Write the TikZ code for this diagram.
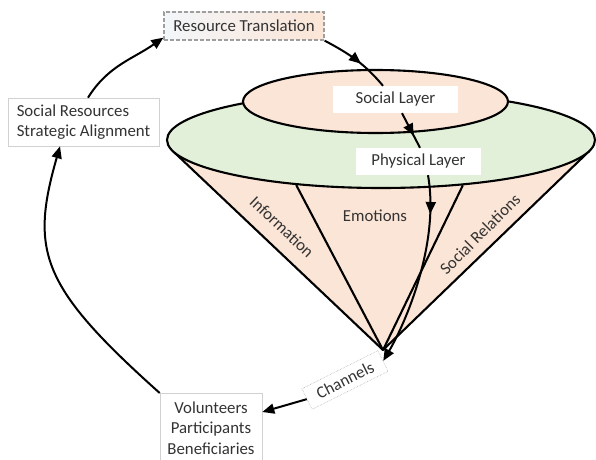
\documentclass[tikz,border=0pt]{standalone}
\usepackage{fontspec}
\setmainfont{Carlito}
\usepackage{tikz}
\usetikzlibrary{arrows.meta, shapes.geometric, decorations.markings}

\definecolor{peach}{HTML}{FBE5D6}
\definecolor{leaf}{HTML}{E2F0D9}
\definecolor{frost}{HTML}{F3F6FA}
\definecolor{txt}{HTML}{333333}

\begin{document}
\begin{tikzpicture}[x=1pt,y=1pt,>={Triangle[length=12pt,width=10pt]},
        every node/.style={font=\fontsize{16.8}{20.5}\selectfont, text=txt},
        layer/.style={ellipse, draw, line width=2.1pt, inner sep=0pt},
        tag/.style={fill=white, minimum width=125pt, minimum height=27pt, inner sep=0pt},
        plainbox/.style={draw=black!18, line width=0.6pt, fill=white},
        link/.style={line width=2pt},
        flow/.style={->, line width=2pt},
        midarrow/.style={postaction={decorate}, decoration={markings,
            mark=at position #1 with {\arrow{Triangle[length=12pt,width=10pt]}}}}]

    \useasboundingbox (0,0) rectangle (596,459);

    % cone under the two layers
    \coordinate (apex)  at (383,109);
    \coordinate (rim_l) at (172.8,308);
    \coordinate (rim_r) at (589.4,308.1);
    \fill[peach] (rim_l) -- (apex) -- (rim_r) -- cycle;
    \draw[line width=2.1pt, line join=round] (rim_l) -- (apex) -- (rim_r);

    \node[layer, fill=leaf, minimum width=428pt, minimum height=96pt] (phys_layer) at (381,319) {};
    \draw[line width=2.1pt] (phys_layer.208.4) -- (apex);
    \draw[line width=2.1pt] (phys_layer.331.3) -- (apex);
    \node[layer, fill=peach, minimum width=265pt, minimum height=63pt] (soc_layer) at (375.5,357.5) {};

    % labels
    \node[tag] (soc_lbl)  at (395.5,359.5) {Social Layer};
    \node[tag] (phys_lbl) at (418.5,297.5) {Physical Layer};
    \node[rotate=-43.5] (info)    at (282,232) {Information};
    \node               (emo)     at (375,243) {Emotions};
    \node[rotate=45]    (soc_rel) at (480,225) {Social Relations};

    \node[draw=black!38, line width=1.3pt, dash pattern=on 4pt off 2pt,
          left color=frost, middle color=leaf!70!white, right color=peach,
          minimum width=160pt, minimum height=28pt, inner sep=0pt] (res_tr) at (244,433) {Resource Translation};
    \node[plainbox, align=left, minimum width=151pt, minimum height=48pt,
          inner xsep=8pt, inner ysep=0pt] (soc_res) at (83.5,337) {Social Resources\\Strategic Alignment};
    \node[plainbox, anchor=north, align=center, minimum width=102pt,
          inner ysep=8.4pt] (vol) at (211,66) {Volunteers\\Participants\\Beneficiaries};
    \node[draw=black!30, densely dotted, line width=0.6pt, fill=white, rotate=26.6,
          minimum width=85pt, minimum height=23pt, inner sep=0pt] (chan) at (345,79) {Channels};

    % flow through the layers
    \draw[link, midarrow=0.58] (res_tr.south east) to[out=-28, in=130] ([xshift=-12.5pt]soc_lbl.north);
    \draw[link, midarrow=0.65] ([xshift=6.5pt]soc_lbl.south) -- ([xshift=1.5pt]phys_lbl.north);
    \draw[flow, midarrow=0.2] ([xshift=9.5pt]phys_lbl.south) .. controls (440,215) and (405,135) .. (chan.east);
    \draw[flow] (chan.west) -- ([yshift=-19pt]vol.north east);

    % loop back on the left
    \draw[flow] (vol.north west) .. controls (41.1,172.1) and (29.7,207.3) .. ([xshift=-23.5pt]soc_res.south);
    \draw[flow] ([xshift=4.5pt]soc_res.north) to[out=58, in=215] ([yshift=3pt]res_tr.south west);
\end{tikzpicture}
\end{document}
